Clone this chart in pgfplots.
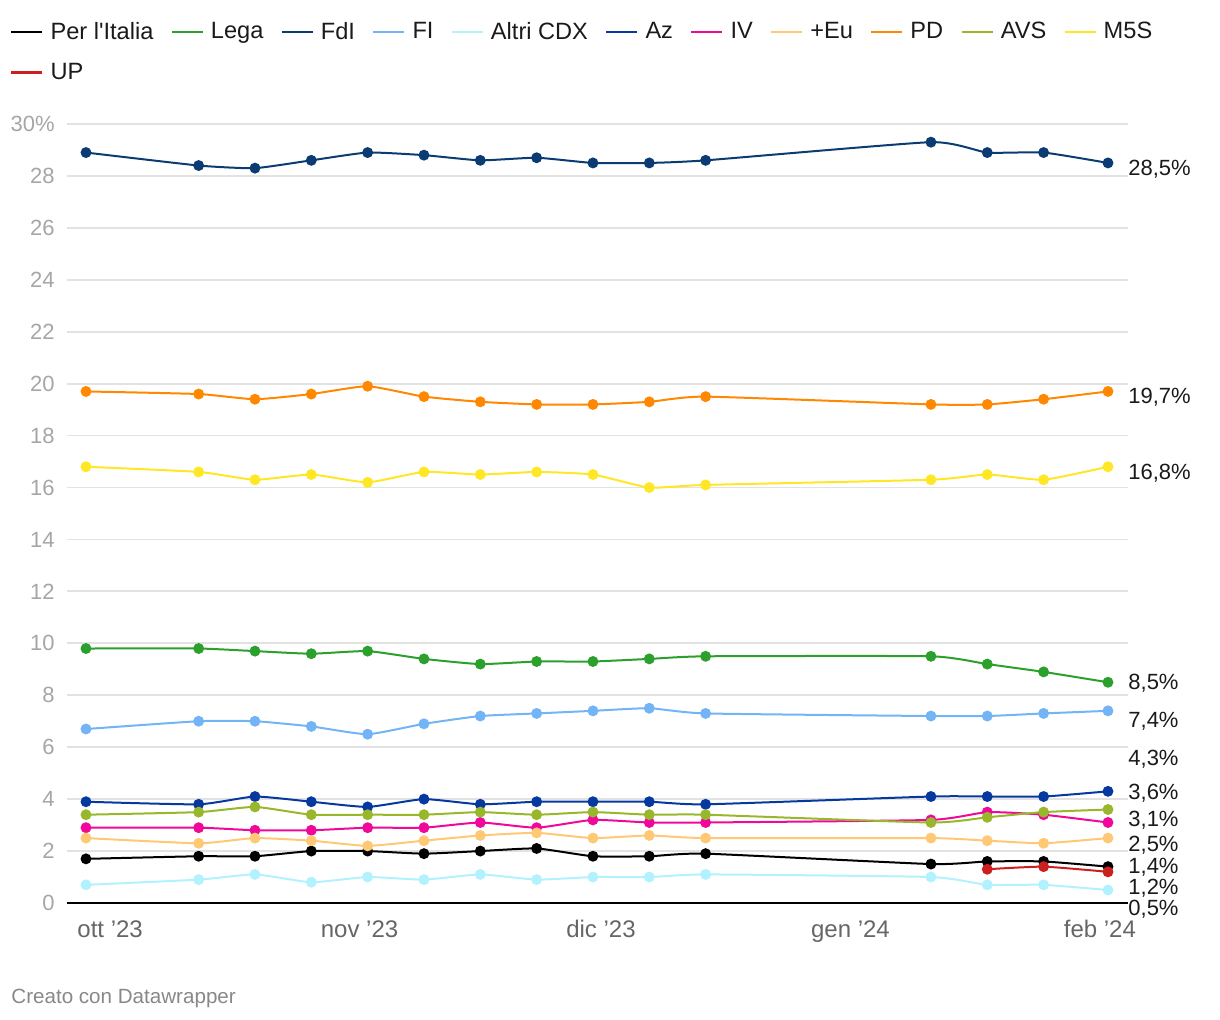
\documentclass[border=0pt]{standalone}
\usepackage{pgfplots}
\pgfplotsset{compat=1.18}
\usepackage{pgfplotstable}
\usepackage{fontspec}
\setmainfont{Liberation Sans}

\definecolor{cperit}{HTML}{000000}
\definecolor{clega}{HTML}{2CA02C}
\definecolor{cfdi}{HTML}{0A3C73}
\definecolor{cfi}{HTML}{72B4F5}
\definecolor{caltri}{HTML}{B2F1FE}
\definecolor{caz}{HTML}{0639A0}
\definecolor{civ}{HTML}{F0089A}
\definecolor{ceu}{HTML}{FFC874}
\definecolor{cpd}{HTML}{FF8800}
\definecolor{cavs}{HTML}{98B72A}
\definecolor{cm5s}{HTML}{FFE725}
\definecolor{cup}{HTML}{CC1F1F}
\definecolor{gridgray}{HTML}{E2E2E2}
\definecolor{ylab}{HTML}{A6A6A6}
\definecolor{xlab}{HTML}{666666}
\definecolor{txt}{HTML}{1A1A1A}
\definecolor{credit}{HTML}{888888}

\pgfplotstableread{
x perit lega fdi fi altri az iv eu pd avs m5s
-3 1.7 9.8 28.9 6.7 0.7 3.9 2.9 2.5 19.7 3.4 16.8
11 1.8 9.8 28.4 7.0 0.9 3.8 2.9 2.3 19.6 3.5 16.6
18 1.8 9.7 28.3 7.0 1.1 4.1 2.8 2.5 19.4 3.7 16.3
25 2.0 9.6 28.6 6.8 0.8 3.9 2.8 2.4 19.6 3.4 16.5
32 2.0 9.7 28.9 6.5 1.0 3.7 2.9 2.2 19.9 3.4 16.2
39 1.9 9.4 28.8 6.9 0.9 4.0 2.9 2.4 19.5 3.4 16.6
46 2.0 9.2 28.6 7.2 1.1 3.8 3.1 2.6 19.3 3.5 16.5
53 2.1 9.3 28.7 7.3 0.9 3.9 2.9 2.7 19.2 3.4 16.6
60 1.8 9.3 28.5 7.4 1.0 3.9 3.2 2.5 19.2 3.5 16.5
67 1.8 9.4 28.5 7.5 1.0 3.9 3.1 2.6 19.3 3.4 16.0
74 1.9 9.5 28.6 7.3 1.1 3.8 3.1 2.5 19.5 3.4 16.1
102 1.5 9.5 29.3 7.2 1.0 4.1 3.2 2.5 19.2 3.1 16.3
109 1.6 9.2 28.9 7.2 0.7 4.1 3.5 2.4 19.2 3.3 16.5
116 1.6 8.9 28.9 7.3 0.7 4.1 3.4 2.3 19.4 3.5 16.3
124 1.4 8.5 28.5 7.4 0.5 4.3 3.1 2.5 19.7 3.6 16.8
}\data

\begin{document}
\begin{tikzpicture}
\path[use as bounding box] (-33.5pt,-58.5pt) rectangle (576.5pt,451.5pt);
\begin{axis}[
  at={(0,0)}, anchor=south west,
  scale only axis, width=530.5pt, height=389.5pt,
  xmin=-5.36, xmax=126.49, ymin=0, ymax=30,
  axis line style={draw=none},
  ytick={0,2,...,30},
  yticklabels={0,2,4,6,8,10,12,14,16,18,20,22,24,26,28,30\%},
  ymajorgrids, grid style={color=gridgray, line width=0.9pt},
  major tick length=0pt,
  xtick={0,31,61,92,123},
  xticklabels={ott ’23,nov ’23,dic ’23,gen ’24,feb ’24},
  yticklabel style={font=\fontsize{11}{13}\selectfont, color=ylab, anchor=east, inner sep=0pt, xshift=-6pt},
  xticklabel style={font=\fontsize{12}{14}\selectfont, color=xlab, anchor=base, inner sep=0pt, yshift=-17.5pt},
  extra y ticks={0}, extra y tick labels={},
  extra y tick style={grid style={black, line width=1pt}},
  clip=false,
  legend columns=11,
  legend cell align=left,
  legend style={at={(axis description cs:-0.0537,1.1309)}, anchor=north west,
    draw=none, fill=none, inner sep=0pt, outer sep=0pt,
    font=\fontsize{11.8}{14}\selectfont, text=txt,
    nodes={inner sep=0pt},
    column sep=3.5pt,
    /tikz/every even column/.append style={column sep=8.5pt},
    row sep=10.5pt},
  legend image code/.code={\draw[line width=1.25pt] (0pt,0pt) -- (15.5pt,0pt);},
  ser/.style={line width=1pt, smooth, tension=0.3, mark=*, mark size=2.2pt, mark options={solid}},
]
\addplot[cperit, ser] table[x=x,y=perit]{\data};
\addlegendentry{Per l\textquotesingle Italia}
\addplot[clega, ser] table[x=x,y=lega]{\data};
\addlegendentry{Lega}
\addplot[cfdi, ser] table[x=x,y=fdi]{\data};
\addlegendentry{FdI}
\addplot[cfi, ser] table[x=x,y=fi]{\data};
\addlegendentry{FI}
\addplot[caltri, ser] table[x=x,y=altri]{\data};
\addlegendentry{Altri CDX}
\addplot[caz, ser] table[x=x,y=az]{\data};
\addlegendentry{Az}
\addplot[civ, ser] table[x=x,y=iv]{\data};
\addlegendentry{IV}
\addplot[ceu, ser] table[x=x,y=eu]{\data};
\addlegendentry{+Eu}
\addplot[cpd, ser] table[x=x,y=pd]{\data};
\addlegendentry{PD}
\addplot[cavs, ser] table[x=x,y=avs]{\data};
\addlegendentry{AVS}
\addplot[cm5s, ser] table[x=x,y=m5s]{\data};
\addlegendentry{M5S}
\addplot[cup, ser] coordinates {(109,1.3) (116,1.4) (124,1.2)};
\addlegendentry{UP}

\begin{scope}[every node/.style={anchor=base west, inner sep=0pt, font=\fontsize{11}{13}\selectfont, text=txt}]
\node at (axis cs:126.49,28.00) {28,5\%};
\node at (axis cs:126.49,19.22) {19,7\%};
\node at (axis cs:126.49,16.30) {16,8\%};
\node at (axis cs:126.49,8.21) {8,5\%};
\node at (axis cs:126.49,6.75) {7,4\%};
\node at (axis cs:126.49,5.28) {4,3\%};
\node at (axis cs:126.49,3.98) {3,6\%};
\node at (axis cs:126.49,2.93) {3,1\%};
\node at (axis cs:126.49,2.00) {2,5\%};
\node at (axis cs:126.49,1.12) {1,4\%};
\node at (axis cs:126.49,0.32) {1,2\%};
\node at (axis cs:126.49,-0.49) {0,5\%};
\end{scope}
\end{axis}
\node[anchor=base west, inner sep=0pt, font=\fontsize{10.3}{12}\selectfont, text=credit] at (-28pt,-50.5pt) {Creato con Datawrapper};
\end{tikzpicture}
\end{document}
